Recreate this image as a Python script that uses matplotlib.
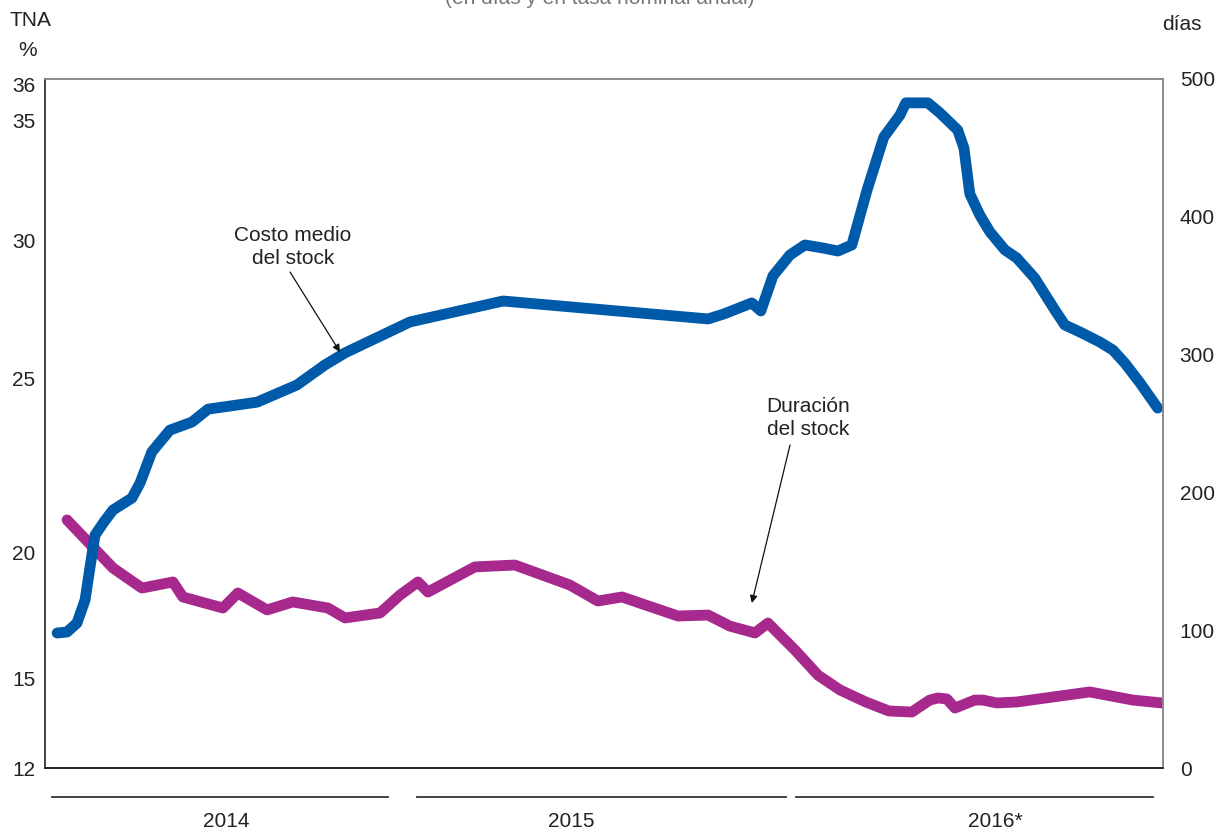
import numpy as np
import matplotlib
matplotlib.use("Agg")
import matplotlib.pyplot as plt
import matplotlib.transforms as mtransforms
from matplotlib.scale import FuncScale

plt.rcParams['font.family'] = ['Liberation Sans Narrow', 'Liberation Sans', 'DejaVu Sans']

# Months elapsed since 1 Jan 2014
costo_mes = [0.39, 0.71, 1.03, 1.29, 1.45, 1.61, 1.90, 2.19, 2.80, 3.06, 3.44, 4.02,
             4.73, 5.25, 6.83, 8.11, 9.01, 9.66, 11.75, 14.75, 21.35, 21.86, 22.76,
             23.05, 23.44, 23.99, 24.47, 25.05, 25.53, 25.98, 26.47, 27.01, 27.53,
             27.72, 28.43, 28.82, 29.39, 29.59, 29.78, 30.10, 30.43, 30.91, 31.29,
             31.87, 32.52, 32.84, 33.32, 33.97, 34.39, 34.77, 35.26, 35.83]
# Average cost of the stock, TNA %
costo_tna = [16.80, 16.84, 17.20, 18.12, 19.44, 20.51, 20.89, 21.23, 21.57, 22.00,
             22.89, 23.51, 23.74, 24.11, 24.31, 24.80, 25.47, 25.91, 27.03, 27.79,
             27.14, 27.32, 27.72, 27.43, 28.70, 29.46, 29.82, 29.71, 29.60, 29.82,
             32.08, 34.29, 35.14, 35.49, 35.49, 35.20, 34.58, 33.83, 31.92, 31.04,
             30.33, 29.64, 29.35, 28.62, 27.46, 26.92, 26.67, 26.30, 26.01, 25.54,
             24.86, 24.14]

duracion_mes = [0.71, 2.19, 3.12, 4.12, 4.44, 5.73, 6.21, 7.15, 7.98, 9.11, 9.66,
                10.79, 11.43, 12.01, 12.33, 13.84, 15.13, 16.90, 17.80, 18.58, 20.38,
                21.35, 22.05, 22.86, 23.28, 24.15, 24.89, 25.60, 26.43, 27.17, 27.91,
                28.49, 28.75, 29.04, 29.30, 29.94, 30.20, 30.65, 31.29, 33.64, 35.03,
                35.96]
# Duration of the stock, days
duracion_dias = [180.0, 145.1, 130.6, 135.0, 124.1, 116.1, 127.0, 114.7, 120.5, 116.1,
                 108.9, 112.5, 125.5, 135.0, 127.7, 145.9, 147.3, 132.8, 121.2, 124.1,
                 110.3, 111.0, 103.0, 98.0, 105.2, 85.6, 67.4, 56.6, 47.9, 41.4, 40.6,
                 49.3, 50.8, 50.1, 43.5, 49.3, 49.3, 47.2, 47.9, 55.2, 49.3, 47.2]

tna_ticks = [12, 15, 20, 25, 30, 35, 36]
dias_ticks = [0, 100, 200, 300, 400, 500]
years = ['2014', '2015', '2016*']

# Left axis uses an uneven (piecewise linear) spacing between its labels
tna_vals = np.array([12, 15, 20, 25, 30, 35, 36, 36.17])
tna_pos = (768 - np.array([768, 678, 553, 378, 240, 120, 85, 79])) / 689.0


def fwd(v):
    return np.interp(v, tna_vals, tna_pos, left=0, right=1)


def inv(p):
    return np.interp(p, tna_pos, tna_vals)


BLUE = '#005AAA'
PURPLE = '#A8298E'
TXT = '#222222'

fig = plt.figure(figsize=(12.18, 8.32), dpi=100)
ax = fig.add_axes([45 / 1218, 64 / 832, 1118 / 1218, 689 / 832])
ax2 = ax.twinx()

ax.set_yscale(FuncScale(ax, (fwd, inv)))
ax.set_ylim(12, 36.17)
ax2.set_ylim(0, 500)
ax.set_xlim(0, 36)

ax2.plot(duracion_mes, duracion_dias, color=PURPLE, lw=7.8,
         solid_capstyle='round', solid_joinstyle='round')
ax.plot(costo_mes, costo_tna, color=BLUE, lw=7.8,
        solid_capstyle='round', solid_joinstyle='round')

ax.set_zorder(ax2.get_zorder() + 1)
ax.patch.set_visible(False)

for a in (ax, ax2):
    a.set_xticks([])
    a.tick_params(axis='y', length=0, labelsize=15, labelcolor=TXT)
    a.spines['top'].set_color('#8a8a8a')
    a.spines['right'].set_color('#8a8a8a')
    a.spines['left'].set_color('#444444')
    a.spines['bottom'].set_color('#222222')
    for s in a.spines.values():
        s.set_linewidth(1.2)

ax.set_yticks(tna_ticks)
ax.set_yticklabels([str(t) for t in tna_ticks])
ax.tick_params(axis='y', pad=7)
ax2.set_yticks(dias_ticks)
ax2.set_yticklabels([str(t) for t in dias_ticks])
ax2.tick_params(axis='y', pad=12)

# Year bands under the time axis
trans = mtransforms.blended_transform_factory(ax.transData, ax.transAxes)
year_spans = [(0.23, 11.04), (11.98, 23.86), (24.18, 35.67)]
year_label_x = [5.83, 16.93, 30.59]
for (x0, x1), lx, lab in zip(year_spans, year_label_x, years):
    ax.plot([x0, x1], [-0.042, -0.042], color='#333333', lw=1.3,
            transform=trans, clip_on=False)
    ax.text(lx, -0.077, lab, transform=trans, ha='center', va='center',
            fontsize=15, color=TXT)

# Axis units
fig.text(30 / 1218, 1 - 20 / 832, 'TNA', ha='center', va='center', fontsize=15, color=TXT)
fig.text(28 / 1218, 1 - 50 / 832, '%', ha='center', va='center', fontsize=15, color=TXT)
fig.text(1182 / 1218, 1 - 25 / 832, 'días', ha='center', va='center', fontsize=15, color=TXT)
fig.text(600 / 1218, 1 + 1 / 832, '(en días y en tasa nominal anual)', ha='center',
         va='center', fontsize=15, color='#777777')

# Series labels with pointers
ax.text(7.98, 29.75, 'Costo medio\ndel stock', ha='center', va='center',
        fontsize=15, color=TXT, linespacing=1.3)
ax.annotate('', xy=(9.50, 25.94), xytext=(7.89, 28.84),
            arrowprops=dict(arrowstyle='-|>', color='#111111', lw=0.9,
                            mutation_scale=11, shrinkA=0, shrinkB=0))
ax2.text(24.57, 254, 'Duración\ndel stock', ha='center', va='center',
         fontsize=15, color=TXT, linespacing=1.3)
ax2.annotate('', xy=(22.76, 119.7), xytext=(23.99, 234.4),
             arrowprops=dict(arrowstyle='-|>', color='#111111', lw=0.9,
                             mutation_scale=11, shrinkA=0, shrinkB=0))

fig.savefig('out.png', dpi=100)
